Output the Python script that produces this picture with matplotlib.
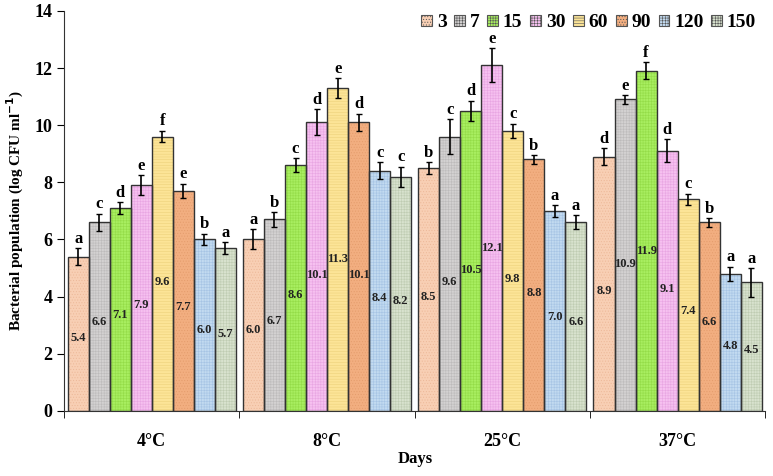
import numpy as np
import matplotlib.pyplot as plt
from matplotlib.patches import Patch

plt.rcParams['font.family'] = ['Liberation Serif', 'DejaVu Serif']
plt.rcParams['font.weight'] = 'bold'
plt.rcParams['hatch.linewidth'] = 0.4

temps = ['4°C', '8°C', '25°C', '37°C']
days = ['3', '7', '15', '30', '60', '90', '120', '150']

# values per day (rows) across temperatures (columns)
d3 = [5.4, 6.0, 8.5, 8.9]
d7 = [6.6, 6.7, 9.6, 10.9]
d15 = [7.1, 8.6, 10.5, 11.9]
d30 = [7.9, 10.1, 12.1, 9.1]
d60 = [9.6, 11.3, 9.8, 7.4]
d90 = [7.7, 10.1, 8.8, 6.6]
d120 = [6.0, 8.4, 7.0, 4.8]
d150 = [5.7, 8.2, 6.6, 4.5]

e3 = [0.3, 0.35, 0.2, 0.3]
e7 = [0.3, 0.25, 0.6, 0.15]
e15 = [0.2, 0.25, 0.35, 0.3]
e30 = [0.35, 0.45, 0.6, 0.4]
e60 = [0.2, 0.35, 0.25, 0.2]
e90 = [0.25, 0.3, 0.15, 0.15]
e120 = [0.2, 0.3, 0.2, 0.25]
e150 = [0.2, 0.35, 0.25, 0.5]

l3 = ['a', 'a', 'b', 'd']
l7 = ['c', 'b', 'c', 'e']
l15 = ['d', 'c', 'd', 'f']
l30 = ['e', 'd', 'e', 'd']
l60 = ['f', 'e', 'c', 'c']
l90 = ['e', 'd', 'b', 'b']
l120 = ['b', 'c', 'a', 'a']
l150 = ['a', 'c', 'a', 'a']

vals = [d3, d7, d15, d30, d60, d90, d120, d150]
errs = [e3, e7, e15, e30, e60, e90, e120, e150]
lets = [l3, l7, l15, l30, l60, l90, l120, l150]

colors = ['#F8CFB4', '#D3D1D1', '#A8EE60', '#F6C0F0', '#FCE497', '#F2AE80', '#C2DAF0', '#D8E2CE']
hatchc = ['#ECB898', '#BDBBBB', '#94DC48', '#E8A6E2', '#EDD27C', '#E49C6C', '#A6C4E4', '#BFCCB2']
hatches = ['......', '++++++', '++++++', '++++++', '------', '......', '++++++', '++++++']

fig, ax = plt.subplots(figsize=(7.73, 4.76), dpi=100)
fig.subplots_adjust(left=0.083, right=0.99, bottom=0.137, top=0.977)

x = np.arange(len(temps))
w = 0.12
for i in range(len(days)):
    pos = x + (i - 3.5) * w
    ax.bar(pos, vals[i], w, color=colors[i], edgecolor='none', zorder=2)
    ax.bar(pos, vals[i], w, fill=False, hatch=hatches[i], edgecolor=hatchc[i], linewidth=0, zorder=3)
    ax.bar(pos, vals[i], w, fill=False, edgecolor='#333333', linewidth=1.0, zorder=4)
    ax.errorbar(pos, vals[i], yerr=errs[i], fmt='none', ecolor='black', elinewidth=1.2, capsize=2, zorder=5)
    for j in range(len(temps)):
        ax.text(pos[j], vals[i][j] * 0.47, f'{vals[i][j]:.1f}', ha='center', va='center',
                fontsize=9, fontweight='bold', color='#222222', zorder=6)
        ax.text(pos[j], vals[i][j] + errs[i][j] + 0.05, lets[i][j], ha='center', va='bottom',
                fontsize=12, fontweight='bold', zorder=6)

ax.set_xlim(-0.5, 3.5)
ax.set_ylim(0, 14)
ax.set_yticks(range(0, 15, 2))
ax.set_xticks(x)
ax.set_xticklabels(temps, fontsize=13, fontweight='bold')
ax.set_xticks(np.arange(-0.5, 4, 1), minor=True)
ax.tick_params(axis='x', which='major', length=0, pad=16)
ax.tick_params(axis='x', which='minor', length=5, direction='out')
ax.tick_params(axis='y', labelsize=13, length=5, direction='out')
for lab in ax.get_yticklabels():
    lab.set_fontweight('bold')
ax.spines['top'].set_visible(False)
ax.spines['right'].set_visible(False)
ax.spines['left'].set_color('#333333')
ax.spines['bottom'].set_color('#333333')

ax.set_xlabel('Days', fontsize=12, fontweight='bold', labelpad=1)
ax.set_ylabel('Bacterial population (log CFU ml$^{\\mathbf{-1}}$)', fontsize=11, fontweight='bold', labelpad=6)

handles = [Patch(facecolor=colors[i], edgecolor='#555555', hatch=hatches[i], linewidth=0.8) for i in range(len(days))]
leg = ax.legend(handles, days, ncol=8, loc='upper right', bbox_to_anchor=(1.012, 1.035), frameon=False,
                prop={'size': 14, 'weight': 'bold'}, handlelength=0.55, handleheight=0.55,
                handletextpad=0.25, columnspacing=0.4)

fig.savefig('out.png', dpi=100)
